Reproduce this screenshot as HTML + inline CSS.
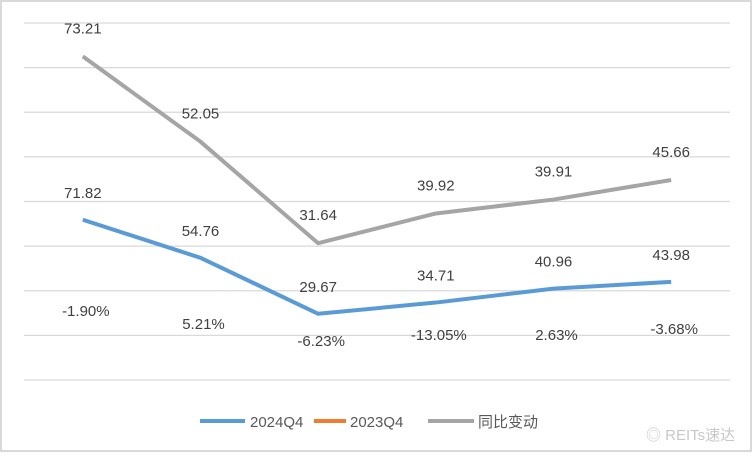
<!DOCTYPE html>
<html><head><meta charset="utf-8"><style>
body{margin:0;background:#fff;}
svg text{font-family:"Liberation Sans","Noto Sans CJK SC",sans-serif;}
</style></head><body>
<svg id="c" width="752" height="452" viewBox="0 0 752 452">
<rect x="1" y="1" width="750" height="450" fill="#fff" stroke="#d9d9d9" stroke-width="2"/>
<g id="grid"></g><g id="series"></g><g id="labels"></g>
<g>
<line x1="200" y1="421" x2="245" y2="421" stroke="#5b9bd5" stroke-width="4"/>
<text x="250" y="427" font-size="15" fill="#595959">2024Q4</text>
<line x1="314" y1="421" x2="346" y2="421" stroke="#ed7d31" stroke-width="4"/>
<text x="350" y="427" font-size="15" fill="#595959">2023Q4</text>
<line x1="428" y1="421" x2="474" y2="421" stroke="#a5a5a5" stroke-width="4"/>
<text x="478" y="427" font-size="15" fill="#595959">同比变动</text>
</g>
<text x="646" y="440" font-size="15" fill="#c8c8c8">◎ REITs速达</text>
</svg>
<script>
const categories=["A","B","C","D","E","F"];
const blueValues=[71.82,54.76,29.67,34.71,40.96,43.98];
const grayValues=[73.21,52.05,31.64,39.92,39.91,45.66];
const pctLabels=["-1.90%","5.21%","-6.23%","-13.05%","2.63%","-3.68%"];
const pctLabelY=[316,329,346,340,340,334];
const yTicks=[0,20,40,60,80,100,120,140,160];
const NS="http://www.w3.org/2000/svg";
const plotLeft=24,plotRight=730,plotTop=23,plotBottom=380,yMax=160;
const xs=i=>plotLeft+(plotRight-plotLeft)/categories.length*(i+0.5);
const ys=v=>plotBottom-(v/yMax)*(plotBottom-plotTop);
function mk(t,a,p){const e=document.createElementNS(NS,t);for(const k in a)e.setAttribute(k,a[k]);document.getElementById(p).appendChild(e);return e;}
yTicks.forEach(t=>{const l=mk("line",{x1:plotLeft,x2:plotRight,y1:ys(t),y2:ys(t),stroke:"#d9d9d9","stroke-width":1.3},"grid");

});
const grayStacked=grayValues.map((v,i)=>v+blueValues[i]);
function series(vals,color,name){const p=mk("polyline",{points:vals.map((v,i)=>xs(i)+","+ys(v)).join(" "),fill:"none",stroke:color,"stroke-width":4,"stroke-linejoin":"round"},"series");

}
series(grayStacked,"#a5a5a5","series-yoy-line");
series(blueValues,"#5b9bd5","series-2024q4-line");
function lab(txt,xx,yy,name){const t=mk("text",{x:xx,y:yy,"text-anchor":"middle","font-size":15,fill:"#404040"},"labels");t.textContent=txt;

}
grayValues.forEach((v,i)=>lab(v.toFixed(2),xs(i),ys(grayStacked[i])-23,"yoy-value-label"));
blueValues.forEach((v,i)=>lab(v.toFixed(2),xs(i),ys(v)-22,"2024q4-value-label"));
pctLabels.forEach((s,i)=>lab(s,xs(i)+3,pctLabelY[i],"pct-label"));
</script>
</body></html>
